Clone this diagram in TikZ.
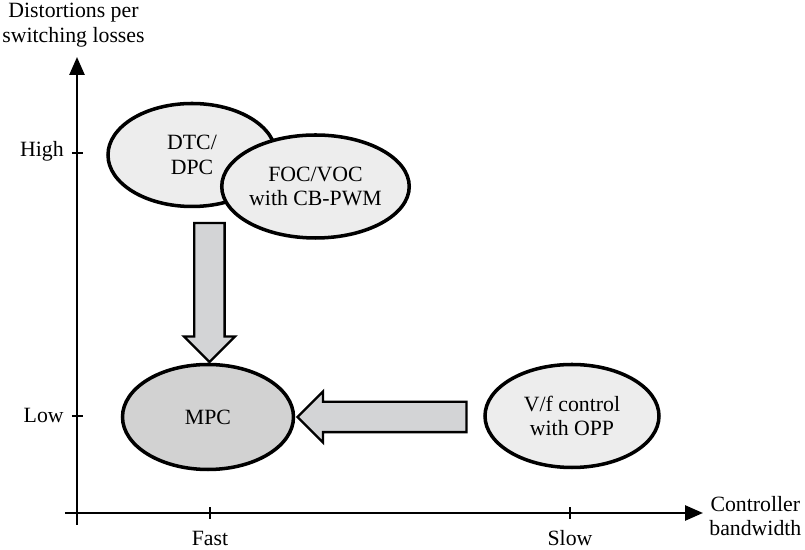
\documentclass[tikz,border=0pt]{standalone}
\usepackage{fontspec}
\setmainfont{Liberation Serif}
\usetikzlibrary{arrows.meta,shapes.geometric,shapes.arrows}
\definecolor{ovalgray}{HTML}{EDEDED}
\definecolor{mpcgray}{HTML}{D2D2D2}
\definecolor{arrowgray}{HTML}{D3D4D6}

\begin{document}
\begin{tikzpicture}[>={Triangle[length=3.6mm,width=3mm]}, lbl/.style={font=\fontsize{12.4}{14}\selectfont,align=center,inner sep=0pt}, oval/.style={draw,ellipse,line width=2pt,fill=ovalgray,lbl}, bigarrow/.style={draw,single arrow,single arrow tip angle=90,single arrow head extend=0.21cm,inner xsep=0pt,inner ysep=0.28cm,fill=arrowgray,line width=1.3pt}, axis/.style={line width=1.5pt}, tick/.style={line width=0.6pt}]
\useasboundingbox (-1.54,-0.74) rectangle (14.56,10.26);
% axes
\coordinate (O) at (0,0);
\coordinate (xs) at (-0.24,0);
\coordinate (xe) at (12.52,0);
\coordinate (ys) at (0,-0.24);
\coordinate (ye) at (0,9.12);
\draw[axis,->] (xs) -- (xe);
\draw[axis,->] (ys) -- (ye);
\node[lbl] (ylab) at (-0.07,9.76) {Distortions per\\switching losses};
\node[lbl,anchor=west] (xlab) at (12.64,-0.06) {Controller\\bandwidth};
% ticks
\draw[tick] (-0.1,7.2) -- (0.12,7.2);
\draw[tick] (-0.1,1.94) -- (0.12,1.94);
\draw[tick] (2.66,-0.12) -- (2.66,0.12);
\draw[tick] (9.86,-0.12) -- (9.86,0.12);
\node[lbl,anchor=base east] (high) at (-0.26,7.12) {High};
\node[lbl,anchor=base east] (low) at (-0.26,1.8) {Low};
\node[lbl,anchor=base] (fast) at (2.66,-0.66) {Fast};
\node[lbl,anchor=base] (slow) at (9.86,-0.66) {Slow};
% methods
\node[oval,minimum width=3.36cm,minimum height=2.06cm] (dtc) at (2.30,7.16) {DTC/\\DPC};
\node[oval,minimum width=3.1cm,minimum height=2.06cm] (foc) at (4.77,6.53) {FOC/VOC\\with CB-PWM};
\node[oval,fill=mpcgray,minimum width=3.42cm,minimum height=2.1cm] (mpc) at (2.62,1.92) {MPC};
\node[oval,minimum width=3.48cm,minimum height=2.06cm] (vf) at (9.9,1.94) {V/f control\\with OPP};
% trends
\node[bigarrow,rotate=-90,minimum height=2.78cm] (down) at (2.65,4.56) {};
\node[bigarrow,rotate=180,minimum height=3.38cm] (left) at (6.25,1.92) {};
\end{tikzpicture}
\end{document}
